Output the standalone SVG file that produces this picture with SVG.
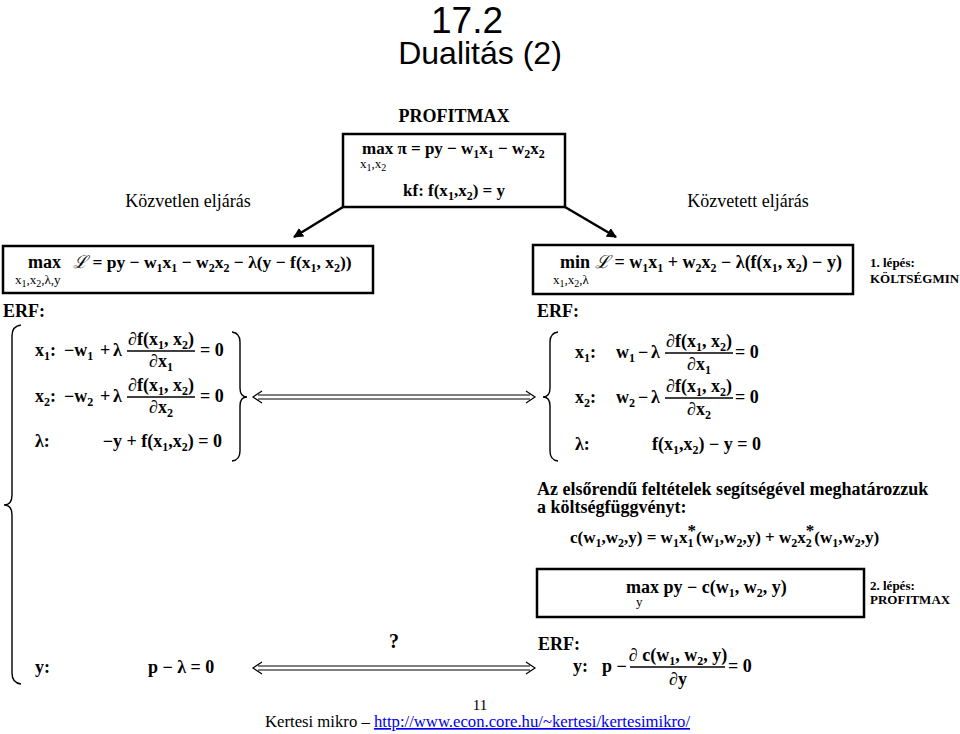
<svg xmlns="http://www.w3.org/2000/svg" width="960" height="734" viewBox="0 0 960 734">
<style>
text{font-family:"Liberation Serif","Times New Roman",serif;fill:#000}
.m{font-size:18px;font-weight:bold}
.m17{font-size:17px;font-weight:bold}
.r{font-size:18px}
.sm{font-size:13px;font-weight:normal}
.note{font-size:13px;font-weight:bold}
.sb{font-size:12px;baseline-shift:-4px}
.sbs{font-size:10px;baseline-shift:-3px}
.L{font-family:"DejaVu Serif",serif;font-style:italic;font-weight:normal}
.ttl{font-family:"Liberation Sans",Arial,sans-serif}
.box{fill:none;stroke:#000;stroke-width:2.5}
.ln{fill:none;stroke:#000;stroke-width:1.3}
.br{fill:none;stroke:#000;stroke-width:1.4}
.dbl{fill:none;stroke:#000;stroke-width:1.2}
.arr{fill:none;stroke:#000;stroke-width:2.5}
</style>
<defs>
<marker id="ah" viewBox="0 0 10 10" refX="9" refY="5" markerWidth="4" markerHeight="4" orient="auto"><path d="M0,0 L10,5 L0,10 z" fill="#000"/></marker>
</defs>

<g id="title">
<text class="ttl" x="467" y="33" font-size="37" text-anchor="middle">17.2</text>
<text class="ttl" x="480" y="64" font-size="32" text-anchor="middle">Dualitás (2)</text>
</g>

<g id="profitmax">
<text class="m" x="454" y="122" text-anchor="middle">PROFITMAX</text>
<rect class="box" x="343" y="134" width="222" height="73"/>
<text class="m17" x="362" y="154">max π = py − w<tspan class="sb">1</tspan>x<tspan class="sb">1</tspan> − w<tspan class="sb">2</tspan>x<tspan class="sb">2</tspan></text>
<text class="sm" x="360" y="168">x<tspan class="sbs">1</tspan>,x<tspan class="sbs">2</tspan></text>
<text class="m17" x="454" y="196" text-anchor="middle">kf: f(x<tspan class="sb">1</tspan>,x<tspan class="sb">2</tspan>) = y</text>
</g>

<g id="labels">
<text class="r" x="188" y="207" text-anchor="middle">Közvetlen eljárás</text>
<text class="r" x="748" y="207" text-anchor="middle">Közvetett eljárás</text>
</g>

<g id="direct-box">
<rect class="box" x="3" y="246" width="370" height="47"/>
<text class="m" x="28" y="268">max</text>
<text class="sm" x="15" y="284">x<tspan class="sbs">1</tspan>,x<tspan class="sbs">2</tspan>,λ,y</text>
<text class="m" x="73" y="268" style="font-size:17.5px"><tspan class="L">ℒ</tspan> = py − w<tspan class="sb">1</tspan>x<tspan class="sb">1</tspan> − w<tspan class="sb">2</tspan>x<tspan class="sb">2</tspan> − λ(y − f(x<tspan class="sb">1</tspan>, x<tspan class="sb">2</tspan>))</text>
</g>

<g id="indirect-box">
<rect class="box" x="533" y="245" width="320" height="49"/>
<text class="m" x="560" y="268">min</text>
<text class="sm" x="553" y="284">x<tspan class="sbs">1</tspan>,x<tspan class="sbs">2</tspan>,λ</text>
<text class="m" x="595" y="268"><tspan class="L">ℒ</tspan> = w<tspan class="sb">1</tspan>x<tspan class="sb">1</tspan> + w<tspan class="sb">2</tspan>x<tspan class="sb">2</tspan> − λ(f(x<tspan class="sb">1</tspan>, x<tspan class="sb">2</tspan>) − y)</text>
<text class="note" x="870" y="267">1. lépés:</text>
<text class="note" x="870" y="283">KÖLTSÉGMIN</text>
</g>

<g id="left-erf">
<text class="m" x="3" y="317">ERF:</text>
<path class="br" d="M21,325 Q12,326 12,336 L12,495 Q12,505 4,505 Q12,505 12,515 L12,673 Q12,683 21,684"/>
<text class="m" x="35" y="356">x<tspan class="sb">1</tspan>:</text>
<text class="m" x="64" y="356">−w<tspan class="sb">1</tspan></text>
<text class="m" x="100" y="356">+</text>
<text class="m" x="113" y="356">λ</text>
<text class="m" x="161" y="345" text-anchor="middle">∂f(x<tspan class="sb">1</tspan>, x<tspan class="sb">2</tspan>)</text>
<line class="ln" x1="127" y1="351" x2="195" y2="351"/>
<text class="m" x="161" y="367" text-anchor="middle">∂x<tspan class="sb">1</tspan></text>
<text class="m" x="200" y="356">= 0</text>

<text class="m" x="35" y="402">x<tspan class="sb">2</tspan>:</text>
<text class="m" x="64" y="402">−w<tspan class="sb">2</tspan></text>
<text class="m" x="100" y="402">+</text>
<text class="m" x="113" y="402">λ</text>
<text class="m" x="161" y="391" text-anchor="middle">∂f(x<tspan class="sb">1</tspan>, x<tspan class="sb">2</tspan>)</text>
<line class="ln" x1="127" y1="397" x2="195" y2="397"/>
<text class="m" x="161" y="413" text-anchor="middle">∂x<tspan class="sb">2</tspan></text>
<text class="m" x="200" y="402">= 0</text>

<text class="m" x="35" y="447">λ:</text>
<text class="m" x="222" y="447" text-anchor="end">−y + f(x<tspan class="sb">1</tspan>,x<tspan class="sb">2</tspan>) = 0</text>
<path class="br" d="M232,332 Q240,333 240,342 L240,388 Q240,397 247,397 Q240,397 240,406 L240,451 Q240,460 232,461"/>

<text class="m" x="35" y="673">y:</text>
<text class="m" x="148" y="673">p − λ = 0</text>
</g>

<g id="right-erf">
<text class="m" x="537" y="317">ERF:</text>
<path class="br" d="M558,332 Q550,333 550,342 L550,388 Q550,397 543,397 Q550,397 550,406 L550,451 Q550,460 558,461"/>
<text class="m" x="575" y="358">x<tspan class="sb">1</tspan>:</text>
<text class="m" x="616" y="358">w<tspan class="sb">1</tspan></text>
<text class="m" x="638" y="358">−</text>
<text class="m" x="651" y="358">λ</text>
<text class="m" x="699" y="347" text-anchor="middle">∂f(x<tspan class="sb">1</tspan>, x<tspan class="sb">2</tspan>)</text>
<line class="ln" x1="665" y1="353" x2="733" y2="353"/>
<text class="m" x="699" y="370" text-anchor="middle">∂x<tspan class="sb">1</tspan></text>
<text class="m" x="735" y="358">= 0</text>

<text class="m" x="575" y="403">x<tspan class="sb">2</tspan>:</text>
<text class="m" x="616" y="403">w<tspan class="sb">2</tspan></text>
<text class="m" x="638" y="403">−</text>
<text class="m" x="651" y="403">λ</text>
<text class="m" x="699" y="392" text-anchor="middle">∂f(x<tspan class="sb">1</tspan>, x<tspan class="sb">2</tspan>)</text>
<line class="ln" x1="665" y1="398" x2="733" y2="398"/>
<text class="m" x="699" y="415" text-anchor="middle">∂x<tspan class="sb">2</tspan></text>
<text class="m" x="735" y="403">= 0</text>

<text class="m" x="575" y="450">λ:</text>
<text class="m" x="761" y="450" text-anchor="end">f(x<tspan class="sb">1</tspan>,x<tspan class="sb">2</tspan>) − y = 0</text>
</g>

<g id="cost-text">
<text class="m" x="537" y="495">Az elsőrendű feltételek segítségével meghatározzuk</text>
<text class="m" x="537" y="513">a költségfüggvényt:</text>
<text class="m17" x="570" y="543">c(w<tspan class="sb">1</tspan>,w<tspan class="sb">2</tspan>,y) = w<tspan class="sb">1</tspan>x<tspan class="sb">1</tspan><tspan dx="-6" dy="-7">*</tspan><tspan dy="7">(w</tspan><tspan class="sb">1</tspan>,w<tspan class="sb">2</tspan>,y) + w<tspan class="sb">2</tspan>x<tspan class="sb">2</tspan><tspan dx="-6" dy="-7">*</tspan><tspan dy="7">(w</tspan><tspan class="sb">1</tspan>,w<tspan class="sb">2</tspan>,y)</text>
</g>

<g id="profit-box">
<rect class="box" x="537" y="569" width="327" height="48"/>
<text class="m" x="626" y="593">max py − c(w<tspan class="sb">1</tspan>, w<tspan class="sb">2</tspan>, y)</text>
<text class="sm" x="636" y="606">y</text>
<text class="note" x="870" y="590">2. lépés:</text>
<text class="note" x="870" y="604">PROFITMAX</text>
</g>

<g id="bottom-erf">
<text class="m" x="538" y="650">ERF:</text>
<text class="m" x="573" y="672">y:</text>
<text class="m" x="602" y="672">p −</text>
<text class="m" x="678" y="661" text-anchor="middle">∂ c(w<tspan class="sb">1</tspan>, w<tspan class="sb">2</tspan>, y)</text>
<line class="ln" x1="630" y1="667" x2="725" y2="667"/>
<text class="m" x="678" y="685" text-anchor="middle">∂y</text>
<text class="m" x="728" y="672">= 0</text>
</g>

<g id="connectors">
<line class="arr" x1="343" y1="207" x2="294" y2="237" marker-end="url(#ah)"/>
<line class="arr" x1="565" y1="207" x2="616" y2="237" marker-end="url(#ah)"/>
<path class="dbl" d="M258,395 L530,395 M258,399 L530,399 M262,391 L253,397 L262,403 M526,391 L535,397 L526,403"/>
<path class="dbl" d="M258,666 L530,666 M258,670 L530,670 M262,662 L253,668 L262,674 M526,662 L535,668 L526,674"/>
<text x="394" y="648" text-anchor="middle" style="font-size:20px;font-weight:bold">?</text>
</g>

<g id="footer">
<text x="480" y="710" text-anchor="middle" style="font-size:15px">11</text>
<text x="265" y="727" style="font-size:16.7px">Kertesi mikro – <tspan fill="#0000ee" text-decoration="underline">http://www.econ.core.hu/~kertesi/kertesimikro/</tspan></text>
</g>
</svg>
